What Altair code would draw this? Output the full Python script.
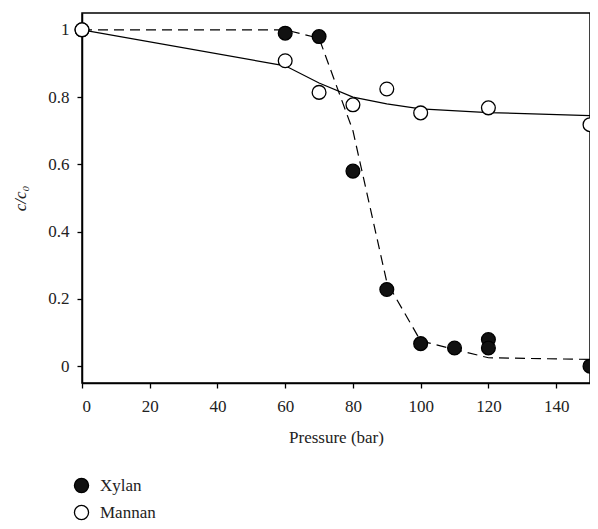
import altair as alt
import pandas as pd

# Measured data
xylan_p = [0, 60, 70, 80, 90, 100, 110, 120, 120, 150]
xylan_c = [1.0, 0.99, 0.98, 0.58, 0.228, 0.067, 0.054, 0.079, 0.054, 0.0]
mannan_p = [0, 60, 70, 80, 90, 100, 120, 150]
mannan_c = [1.0, 0.908, 0.814, 0.777, 0.824, 0.753, 0.768, 0.718]

# Fitted curves
xfit_p = [0, 60, 70, 80, 90, 100, 110, 120, 150]
xfit_c = [1.0, 1.0, 0.975, 0.70, 0.25, 0.075, 0.05, 0.025, 0.02]
mfit_p = [0, 60, 70, 80, 90, 100, 120, 150]
mfit_c = [1.0, 0.893, 0.842, 0.80, 0.78, 0.765, 0.754, 0.745]

x_ticks = [0, 20, 40, 60, 80, 100, 120, 140]
y_ticks = [0, 0.2, 0.4, 0.6, 0.8, 1.0]

pts = pd.DataFrame(
    {"p": xylan_p + mannan_p,
     "c": xylan_c + mannan_c,
     "s": ["Xylan"] * len(xylan_p) + ["Mannan"] * len(mannan_p)}
)
xfit = pd.DataFrame({"p": xfit_p, "c": xfit_c})
mfit = pd.DataFrame({"p": mfit_p, "c": mfit_c})

FONT = "'Liberation Serif', 'DejaVu Serif', serif"

xenc = alt.X("p:Q", scale=alt.Scale(domain=[0, 150], nice=False, zero=False),
             axis=alt.Axis(values=x_ticks, title="Pressure (bar)", grid=False,
                           tickSize=5, labelPadding=10, titlePadding=15))
yenc = alt.Y("c:Q", scale=alt.Scale(domain=[-0.05, 1.05], nice=False, zero=False),
             axis=alt.Axis(values=y_ticks, title="c/c₀", grid=False, format="~g",
                           tickSize=5, labelPadding=8, titlePadding=18,
                           titleFontStyle="italic"))

line_x = alt.Chart(xfit).mark_line(color="black", strokeWidth=1.2,
                                   strokeDash=[10, 6]).encode(x=xenc, y=yenc)
line_m = alt.Chart(mfit).mark_line(color="black", strokeWidth=1.2).encode(x=xenc, y=yenc)

points = alt.Chart(pts).mark_point(filled=True, size=190, stroke="black",
                                   strokeWidth=1.3, opacity=1).encode(
    x=xenc, y=yenc,
    fill=alt.Fill("s:N", scale=alt.Scale(domain=["Xylan", "Mannan"],
                                         range=["#111111", "#ffffff"]),
                  legend=alt.Legend(title=None, orient="none", legendX=-9, legendY=464,
                                    symbolType="circle", symbolSize=200,
                                    symbolStrokeColor="black", symbolStrokeWidth=1.3,
                                    labelFontSize=17, labelFont=FONT, labelColor="#222",
                                    rowPadding=6, labelOffset=10, padding=0)),
)

chart = alt.layer(line_x, line_m, points).properties(
    width=508, height=370,
    autosize=alt.AutoSizeParams(type="none"),
    padding={"left": 74, "top": 5, "right": 0, "bottom": 138},
).configure_view(stroke="black", strokeWidth=1.5).configure_axis(
    domainColor="black", domainWidth=1.5, tickColor="black", tickWidth=1.3,
    labelFont=FONT, titleFont=FONT, labelFontSize=17, titleFontSize=17,
    labelColor="#222", titleColor="#222", titleFontWeight="normal",
)

chart.save("out.html", embed_options={"renderer": "svg", "actions": False})
